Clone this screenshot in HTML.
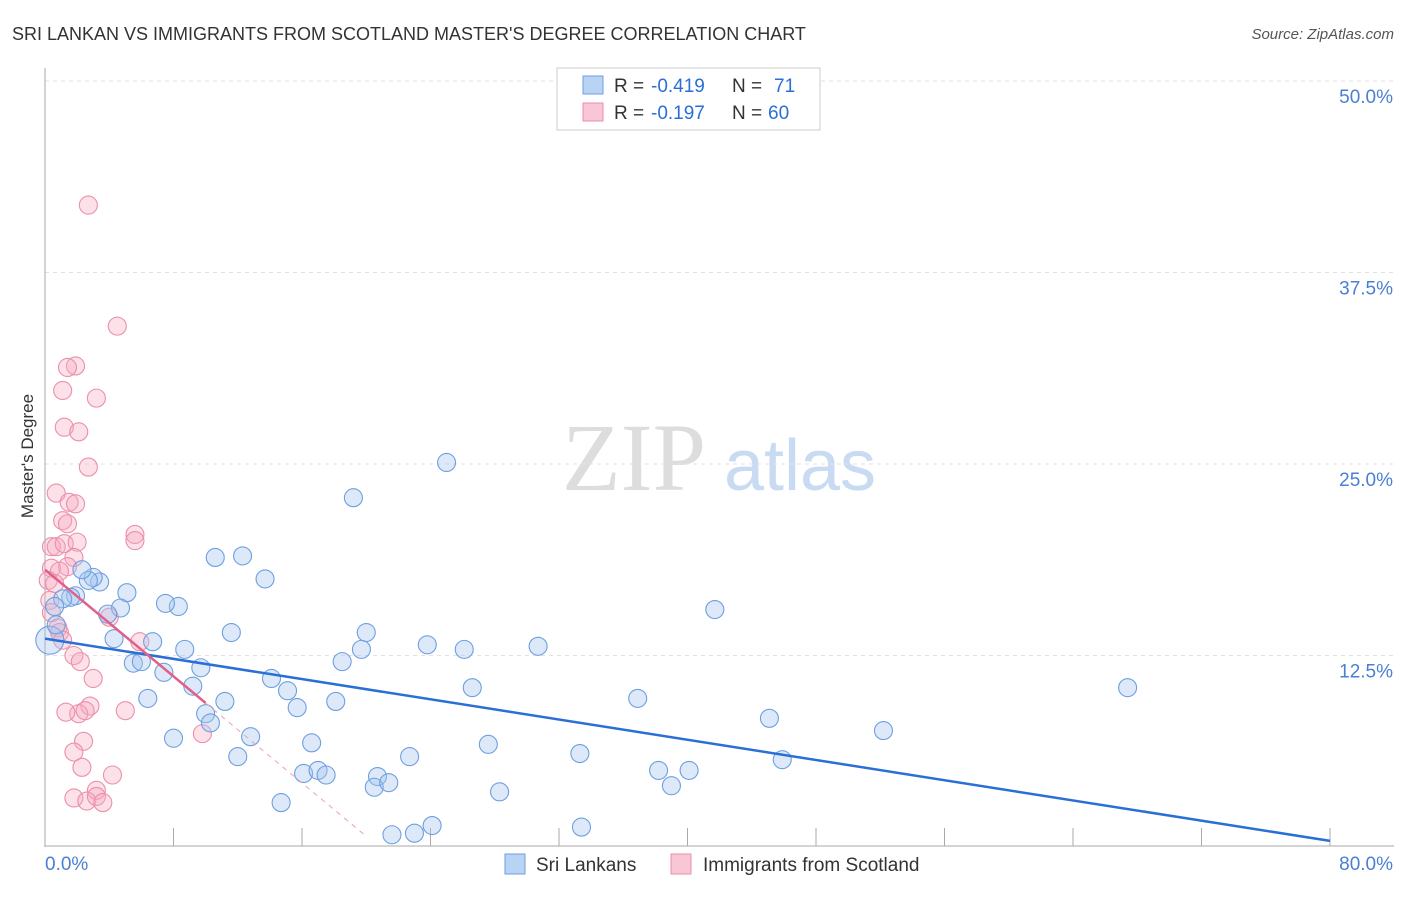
<!DOCTYPE html>
<html><head><meta charset="utf-8"><style>
body{margin:0;background:#fff;font-family:"Liberation Sans",sans-serif;}
</style></head><body>
<svg width="1406" height="892" xmlns="http://www.w3.org/2000/svg" id="chart">
<text x="12" y="40" font-size="18" fill="#333">SRI LANKAN VS IMMIGRANTS FROM SCOTLAND MASTER'S DEGREE CORRELATION CHART</text>
<text x="1394" y="39" font-size="15" fill="#555" font-style="italic" text-anchor="end">Source: ZipAtlas.com</text>
<text x="33" y="456" font-size="17" fill="#333" text-anchor="middle" transform="rotate(-90 33 456)">Master's Degree</text>
<g><text x="634" y="490" font-size="96" fill="#ddd" font-family="Liberation Serif" text-anchor="middle">ZIP</text><text x="800" y="490" font-size="72" fill="#c8dbf3" text-anchor="middle">atlas</text></g>
<g id="grid"></g><g id="marks"></g><g id="lines"></g>
<g>
<rect x="557" y="68" width="263" height="62" fill="#fff" stroke="#ccc"/>
<rect x="583" y="76" width="20" height="18" fill="#b9d3f5" stroke="#6d9fe0"/>
<rect x="583" y="103" width="20" height="18" fill="#f8c6d4" stroke="#eb8fab"/>
<text x="614" y="92" font-size="19" fill="#333">R =</text><text x="651" y="92" font-size="19" fill="#2a6fd6">-0.419</text>
<text x="732" y="92" font-size="19" fill="#333">N =</text><text x="774" y="92" font-size="19" fill="#2a6fd6">71</text>
<text x="614" y="119" font-size="19" fill="#333">R =</text><text x="651" y="119" font-size="19" fill="#2a6fd6">-0.197</text>
<text x="732" y="119" font-size="19" fill="#333">N =</text><text x="768" y="119" font-size="19" fill="#2a6fd6">60</text>
</g>
<g>
<rect x="505" y="854" width="20" height="20" fill="#b9d3f5" stroke="#6d9fe0"/><text x="536" y="871" font-size="19" fill="#333">Sri Lankans</text>
<rect x="671" y="854" width="20" height="20" fill="#f8c6d4" stroke="#eb8fab"/><text x="703" y="871" font-size="19" fill="#333">Immigrants from Scotland</text>
</g>
</svg>
<script>
const yTicks=[12.5,25,37.5,50];
const yTickLabels=["12.5%","25.0%","37.5%","50.0%"];
const xTicks=[0,8,16,24,32,40,48,56,64,72,80];
const blueX=[25.0,19.2,10.6,12.3,13.7,41.7,67.4,52.2,45.1,45.9,36.9,33.3,30.7,26.1,23.8,26.6,27.6,28.3,22.7,20.0,19.7,18.5,18.1,15.7,15.1,14.1,16.6,16.1,17.0,17.5,20.7,20.5,21.4,14.7,21.6,23.0,24.1,33.4,38.2,40.1,39.0,11.6,9.7,8.7,8.3,7.5,6.7,7.4,5.5,6.0,6.4,9.2,11.2,10.0,10.3,12.8,12.0,8.0,5.1,4.7,4.3,3.9,3.4,3.0,2.7,2.3,1.9,1.6,1.1,0.6,0.3,0.7];
const blueY=[25.1,22.8,18.9,19.0,17.5,15.5,10.4,7.6,8.4,5.7,9.7,6.1,13.1,12.9,13.2,10.4,6.7,3.6,5.9,14.0,12.9,12.1,9.5,9.1,10.2,11.0,6.8,4.8,5.0,4.7,4.6,3.9,4.2,2.9,0.8,0.9,1.4,1.3,5.0,5.0,4.0,14.0,11.7,12.9,15.7,15.9,13.4,11.4,12.0,12.1,9.7,10.5,9.5,8.7,8.1,7.2,5.9,7.1,16.6,15.6,13.6,15.2,17.3,17.6,17.4,18.1,16.4,16.3,16.2,15.7,13.5,14.5];
const pinkX=[2.7,4.5,1.9,1.4,3.2,1.1,1.2,2.1,2.7,0.7,1.5,1.9,1.1,1.4,5.6,5.6,0.4,0.7,1.2,2.0,1.8,1.4,0.4,0.9,0.2,0.6,0.3,0.4,0.8,0.9,1.1,4.0,5.9,1.8,2.2,3.0,5.0,2.8,2.1,2.5,1.3,9.8,2.4,1.8,2.3,4.2,3.2,1.8,2.6,3.2,3.6];
const pinkY=[41.9,34.0,31.4,31.3,29.3,29.8,27.4,27.1,24.8,23.1,22.5,22.4,21.3,21.1,20.4,20.0,19.6,19.6,19.8,19.9,18.9,18.3,18.2,18.0,17.4,17.2,16.1,15.3,14.3,14.0,13.5,15.0,13.4,12.5,12.1,11.0,8.9,9.2,8.7,8.9,8.8,7.4,6.9,6.2,5.2,4.7,3.7,3.2,3.0,3.3,2.9];
const blueTrend=[13.6,0.4];
const pinkTrend=[18.1,0.87];
const X=v=>45+v/80*1285, Y=v=>847-v/12.5*191.5;
const NS="http://www.w3.org/2000/svg";
function mk(t,a,p){const e=document.createElementNS(NS,t);for(const k in a)e.setAttribute(k,a[k]);p.appendChild(e);return e;}
const g=document.getElementById('grid');
yTicks.forEach((t,i)=>{
 const l=mk('line',{x1:45,x2:1394,y1:Y(t),y2:Y(t),stroke:'#e2e2e2','stroke-dasharray':'4,4'},g);
 
 
 const tx=mk('text',{x:1393,y:Y(t)+22,'font-size':19,fill:'#4a7fd4','text-anchor':'end'},g);
 tx.textContent=yTickLabels[i];
 
 
});
const ax=mk('line',{x1:45,x2:45,y1:68,y2:847,stroke:'#aaa'},g);


const bx=mk('line',{x1:45,x2:1394,y1:846,y2:846,stroke:'#aaa'},g);


xTicks.forEach(t=>{const l=mk('line',{x1:X(t),x2:X(t),y1:828,y2:846,stroke:'#aaa'},g);
 
 });
const x0=mk('text',{x:45,y:870,'font-size':19,fill:'#4a7fd4'},g);x0.textContent='0.0%';


const x1=mk('text',{x:1393,y:870,'font-size':19,fill:'#4a7fd4','text-anchor':'end'},g);x1.textContent='80.0%';


const m=document.getElementById('marks');
pinkX.forEach((x,i)=>{const c=mk('circle',{cx:X(x),cy:Y(pinkY[i]),r:9,fill:'rgba(245,170,192,0.35)',stroke:'#eb8fab','stroke-width':1.1},m);
 
 });
blueX.forEach((x,i)=>{const c=mk('circle',{cx:X(x),cy:Y(blueY[i]),r:i==70?14:9,fill:'rgba(165,198,240,0.38)',stroke:'#6d9fe0','stroke-width':1.1},m);
 
 });
const L=document.getElementById('lines');
const bl=mk('line',{x1:X(0),y1:Y(blueTrend[0]),x2:X(80),y2:Y(blueTrend[1]),stroke:'#2a6fd6','stroke-width':2.5},L);


const pf=x=>pinkTrend[0]-pinkTrend[1]*x;
const pl=mk('line',{x1:X(0),y1:Y(pf(0)),x2:X(10),y2:Y(pf(10)),stroke:'#e0608a','stroke-width':2.5},L);


const pd=mk('line',{x1:X(10),y1:Y(pf(10)),x2:X(20),y2:Y(pf(20)),stroke:'#e8a0b8','stroke-width':1,'stroke-dasharray':'5,5'},L);


</script>
</body></html>
